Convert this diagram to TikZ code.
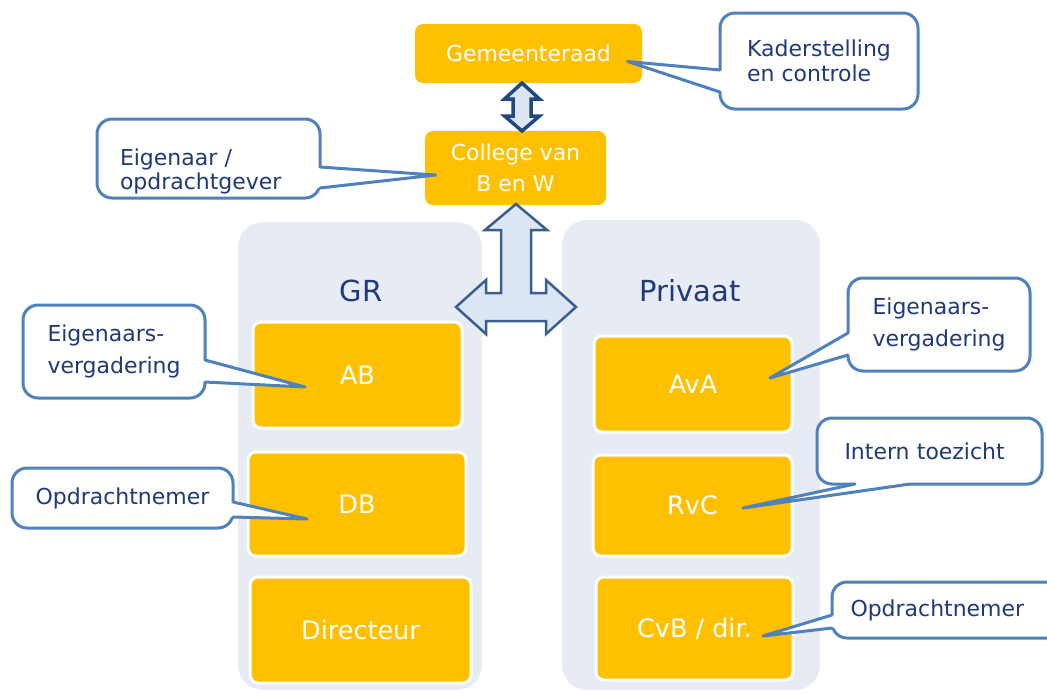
\documentclass[tikz,border=0pt]{standalone}
\usepackage{fontspec}
\setmainfont{DejaVu Sans}
\usetikzlibrary{positioning}
\usetikzlibrary{calc}
\definecolor{gold}{HTML}{FFC000}
\definecolor{panelgray}{HTML}{E7EBF4}
\definecolor{noteblue}{HTML}{4F81BD}
\definecolor{navy}{HTML}{1F3A78}
\definecolor{arrowfill}{HTML}{DCE6F2}
\definecolor{arrowline}{HTML}{3A5F8E}
\definecolor{arrowdark}{HTML}{1F497D}
\newlength\unitpx
\setlength\unitpx{0.02cm}

\begin{document}
\begin{tikzpicture}[x=0.02cm,y=-0.02cm,
  panel/.style={fill=panelgray, rounded corners=25\unitpx},
  box/.style={fill=gold, draw=white, line width=3\unitpx, rounded corners=8\unitpx,
    text=white, align=center, font=\fontsize{12.5}{17.6}\selectfont},
  unit/.style={box, font=\fontsize{14.5}{17}\selectfont},
  note/.style={fill=white, draw=noteblue, line width=3\unitpx, rounded corners=15\unitpx,
    text=navy, align=left, inner sep=0pt, outer sep=0pt, font=\fontsize{12.5}{14}\selectfont},
  widenote/.style={note, font=\fontsize{12.5}{18}\selectfont},
  pointer/.style={draw=noteblue, line width=3\unitpx, line join=round, line cap=round},
  blockarrow/.style={fill=arrowfill, line width=2.5\unitpx, line join=miter}]
  \clip (0,0) rectangle (1047,693);

  % Panels
  \node[panel, minimum width=244\unitpx, minimum height=468\unitpx] (gr) at (360,456) {};
  \node[panel, minimum width=258\unitpx, minimum height=470\unitpx] (priv) at (691,455) {};
  \node[text=navy, font=\fontsize{16.5}{18}\selectfont] (grlabel) at (361,291) {GR};
  \node[text=navy, font=\fontsize{16.5}{18}\selectfont] (privlabel) at (690,291) {Privaat};

  % Top boxes
  \node[box, draw=none, minimum width=227\unitpx, minimum height=59\unitpx] (raad) at (528.5,53.5) {Gemeenteraad};
  \node[box, draw=none, minimum width=181\unitpx, minimum height=74\unitpx] (college) at (515.5,168) {College van\\B en W};

  % GR boxes
  \node[unit, minimum width=209\unitpx, minimum height=106\unitpx] (ab) at (357.5,375) {AB};
  \node[unit, minimum width=218\unitpx, minimum height=104\unitpx] (db) at (357,504) {DB};
  \node[unit, minimum width=221\unitpx, minimum height=106\unitpx] (dir) at (360.5,630) {Directeur};

  % Privaat boxes
  \node[unit, minimum width=198\unitpx, minimum height=96\unitpx] (ava) at (693,384) {AvA};
  \node[unit, minimum width=199\unitpx, minimum height=101\unitpx] (rvc) at (692.5,505.5) {RvC};
  \node[unit, minimum width=197\unitpx, minimum height=103\unitpx] (cvb) at (694.5,628.5) {CvB / dir.};

  % Arrow Gemeenteraad - College
  \coordinate (mid) at ($(raad.south)!0.5!(college.north)$);
  \begin{scope}[shift={(mid)}]
    \draw[blockarrow, draw=arrowdark, line width=3.5\unitpx] (0,-24) -- (17.5,-8) -- (9,-8) -- (9,9) -- (17.5,9) -- (0,24)
      -- (-17.5,9) -- (-9,9) -- (-9,-8) -- (-17.5,-8) -- cycle;
  \end{scope}

  % Arrow College - GR / Privaat
  \draw[blockarrow, draw=arrowline] (516,204) -- (547,230) -- (531,230) -- (531,293) -- (546,293)
    -- (546,280) -- (576,307) -- (546,334) -- (546,321) -- (486,321) -- (486,334) -- (456,307)
    -- (486,280) -- (486,293) -- (501,293) -- (501,230) -- (485,230) -- cycle;

  % Callouts
  \node[note, minimum width=198\unitpx, minimum height=96\unitpx] (kader) at (819,61) {Kaderstelling\\en controle};
  \node[note, minimum width=223\unitpx, minimum height=79\unitpx, text width=177\unitpx, text depth=2pt] (eigenaar) at (208.5,158.5) {Eigenaar /\\opdrachtgever};
  \node[widenote, minimum width=182\unitpx, minimum height=93\unitpx] (evgr) at (114,351.5) {Eigenaars-\\vergadering};
  \node[note, minimum width=221\unitpx, minimum height=60\unitpx] (nemergr) at (122.5,498) {Opdrachtnemer};
  \node[widenote, minimum width=182\unitpx, minimum height=93\unitpx] (evpriv) at (939,324.5) {Eigenaars-\\vergadering};
  \node[note, minimum width=225\unitpx, minimum height=66\unitpx, text width=170\unitpx] (toezicht) at (929.5,451) {Intern toezicht};
  \node[note, minimum width=233\unitpx, minimum height=56\unitpx, text width=196\unitpx] (nemerpriv) at (948.5,610) {Opdrachtnemer};

  % Pointer tips
  \coordinate (tkader) at ($(raad.east)+(-16,8)$);
  \coordinate (teigenaar) at ($(college.west)+(12,7)$);
  \coordinate (tevgr) at ($(ab.center)+(-52.5,12)$);
  \coordinate (tnemergr) at ($(db.center)+(-50,15)$);
  \coordinate (tevpriv) at ($(ava.center)+(77,-6)$);
  \coordinate (ttoezicht) at ($(rvc.center)+(50.5,2.5)$);
  \coordinate (tnemerpriv) at ($(cvb.center)+(68.5,7.5)$);

  % Pointers
  \fill[white] ($(kader.west)+(0,9)$) -- (tkader) -- ($(kader.west)+(0,31)$) -- ($(kader.west)+(4,31)$) -- ($(kader.west)+(4,9)$) -- cycle;
  \draw[pointer] ($(kader.west)+(0,9)$) -- (tkader) -- ($(kader.west)+(0,31)$);

  \fill[white] ($(eigenaar.east)+(0,8.5)$) -- (teigenaar) -- ($(eigenaar.east)+(0,29.5)$) -- ($(eigenaar.east)+(-4,29.5)$) -- ($(eigenaar.east)+(-4,8.5)$) -- cycle;
  \draw[pointer] ($(eigenaar.east)+(0,8.5)$) -- (teigenaar) -- ($(eigenaar.east)+(0,29.5)$);

  \fill[white] ($(evgr.east)+(0,8.5)$) -- (tevgr) -- ($(evgr.east)+(0,30.5)$) -- ($(evgr.east)+(-4,30.5)$) -- ($(evgr.east)+(-4,8.5)$) -- cycle;
  \draw[pointer] ($(evgr.east)+(0,8.5)$) -- (tevgr) -- ($(evgr.east)+(0,30.5)$);

  \fill[white] ($(nemergr.east)+(0,4)$) -- (tnemergr) -- ($(nemergr.east)+(0,19)$) -- ($(nemergr.east)+(-4,19)$) -- ($(nemergr.east)+(-4,4)$) -- cycle;
  \draw[pointer] ($(nemergr.east)+(0,4)$) -- (tnemergr) -- ($(nemergr.east)+(0,19)$);

  \fill[white] ($(evpriv.west)+(0,8.5)$) -- (tevpriv) -- ($(evpriv.west)+(0,30.5)$) -- ($(evpriv.west)+(4,30.5)$) -- ($(evpriv.west)+(4,8.5)$) -- cycle;
  \draw[pointer] ($(evpriv.west)+(0,8.5)$) -- (tevpriv) -- ($(evpriv.west)+(0,30.5)$);

  \fill[white] ($(toezicht.south)+(-74.5,0)$) -- (ttoezicht) -- ($(toezicht.south)+(-19.5,0)$) -- ($(toezicht.south)+(-19.5,-4)$) -- ($(toezicht.south)+(-74.5,-4)$) -- cycle;
  \draw[pointer] ($(toezicht.south)+(-74.5,0)$) -- (ttoezicht) -- ($(toezicht.south)+(-19.5,0)$);

  \fill[white] ($(nemerpriv.west)+(0,5)$) -- (tnemerpriv) -- ($(nemerpriv.west)+(0,18)$) -- ($(nemerpriv.west)+(4,18)$) -- ($(nemerpriv.west)+(4,5)$) -- cycle;
  \draw[pointer] ($(nemerpriv.west)+(0,5)$) -- (tnemerpriv) -- ($(nemerpriv.west)+(0,18)$);
\end{tikzpicture}
\end{document}
